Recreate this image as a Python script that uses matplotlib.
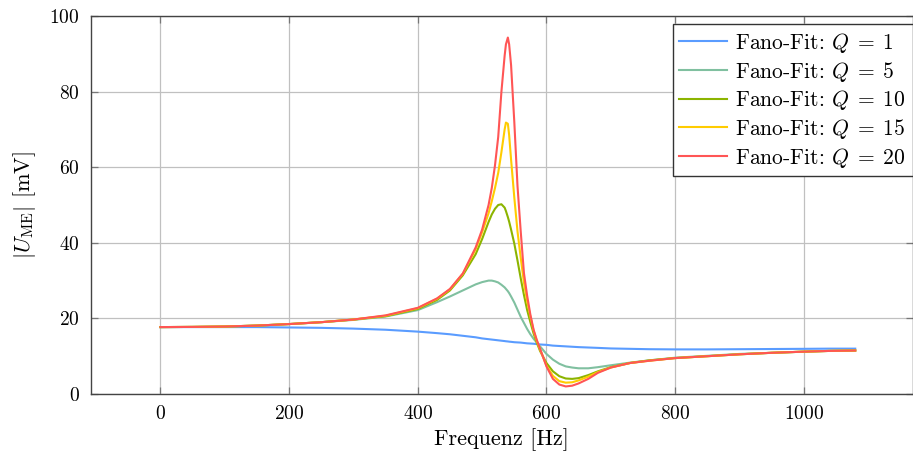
import matplotlib
matplotlib.use("Agg")
import matplotlib.pyplot as plt

plt.rcParams["font.family"] = "serif"
plt.rcParams["font.serif"] = ["cmr10", "DejaVu Serif"]
plt.rcParams["mathtext.fontset"] = "cm"
plt.rcParams["axes.formatter.use_mathtext"] = True

# Frequency samples [Hz]
freq = [0, 50, 100, 150, 200, 250, 300, 350, 400, 430, 450, 470, 490, 500,
        510, 515, 520, 525, 530, 535, 537, 540, 542, 545, 550, 555, 560, 565, 570, 575,
        580, 585, 590, 600, 610, 620, 630, 640, 650, 665, 680, 700, 730, 760,
        800, 850, 900, 950, 1000, 1040, 1080]

# |U_ME| [mV] for each Q
u_q1 = [17.7, 17.7, 17.7, 17.7, 17.6, 17.5, 17.3, 17.0, 16.5, 16.1, 15.8, 15.4, 15.0, 14.7,
        14.5, 14.4, 14.3, 14.2, 14.1, 14.0, 13.95, 13.9, 13.85, 13.8, 13.7, 13.65, 13.6, 13.5,
        13.4, 13.35, 13.3, 13.2, 13.1, 13.0, 12.8, 12.7, 12.6, 12.5, 12.4, 12.3, 12.2, 12.05,
        11.95, 11.85, 11.8, 11.8, 11.85, 11.9, 11.95, 12.0, 12.0]
u_q5 = [17.7, 17.75, 17.85, 18.1, 18.5, 19.0, 19.6, 20.5, 22.2, 24.3, 25.8, 27.4, 29.0, 29.6,
        30.0, 30.0, 29.8, 29.5, 28.9, 28.2, 27.8, 27.2, 26.7, 25.8, 24.2, 22.3, 20.4, 18.8,
        17.2, 15.8, 14.6, 13.6, 12.6, 10.6, 9.1, 8.0, 7.3, 7.0, 6.8, 6.8, 7.1, 7.6,
        8.3, 8.9, 9.6, 10.1, 10.6, 10.9, 11.2, 11.4, 11.5]
u_q10 = [17.7, 17.75, 17.85, 18.1, 18.5, 19.0, 19.7, 20.6, 22.5, 24.9, 27.4, 31.4, 37.0, 41.0,
         45.5, 47.5, 49.0, 50.0, 50.2, 49.3, 48.4, 46.8, 45.6, 43.5, 39.8, 35.3, 30.6, 26.2,
         22.2, 19.0, 16.0, 13.6, 11.4, 8.2, 6.0, 4.7, 4.1, 4.0, 4.2, 5.0, 6.0, 7.1,
         8.2, 8.9, 9.5, 10.0, 10.5, 10.9, 11.2, 11.4, 11.5]
u_q15 = [17.7, 17.75, 17.85, 18.1, 18.5, 19.0, 19.7, 20.7, 22.7, 25.2, 27.7, 31.8, 38.3, 42.8,
         47.8, 51.0, 54.5, 58.5, 64.0, 70.0, 71.8, 71.5, 68.5, 62.0, 52.0, 43.0, 36.0, 29.5,
         24.5, 20.5, 16.8, 14.0, 11.8, 7.5, 4.8, 3.4, 3.0, 3.1, 3.6, 4.6, 5.8, 7.0,
         8.2, 8.8, 9.5, 10.0, 10.5, 10.9, 11.2, 11.4, 11.5]
u_q20 = [17.7, 17.75, 17.85, 18.1, 18.5, 19.0, 19.7, 20.8, 22.8, 25.3, 27.8, 31.9, 38.8, 43.5,
         50.0, 54.5, 60.5, 68.0, 80.0, 89.5, 92.5, 94.3, 92.5, 87.0, 72.0, 55.0, 43.0, 32.0,
         26.0, 21.0, 17.0, 14.3, 12.0, 7.3, 4.0, 2.5, 2.0, 2.2, 2.8, 4.0, 5.6, 7.0,
         8.2, 8.8, 9.5, 10.0, 10.5, 10.9, 11.2, 11.4, 11.5]

labels = [r"Fano-Fit: $Q\;=\;1$", r"Fano-Fit: $Q\;=\;5$", r"Fano-Fit: $Q\;=\;10$",
          r"Fano-Fit: $Q\;=\;15$", r"Fano-Fit: $Q\;=\;20$"]
colors = ["#5a9cff", "#80c0a0", "#8cb400", "#ffcc00", "#ff5555"]

fig = plt.figure(figsize=(9.13, 4.55), dpi=100)
ax = fig.add_axes([91 / 913, 1 - 394 / 455, 821.5 / 913, 378 / 455])

for u, lab, col in zip([u_q1, u_q5, u_q10, u_q15, u_q20], labels, colors):
    ax.plot(freq, u, color=col, linewidth=1.5, label=lab)

ax.set_xlim(-108, 1169)
ax.set_ylim(0, 100)
ax.set_xticks([0, 200, 400, 600, 800, 1000])
ax.set_yticks([0, 20, 40, 60, 80, 100])
ax.grid(True, color="#c0c0c0", linewidth=0.9)
ax.set_axisbelow(True)
ax.tick_params(direction="in", length=5, width=0.9, color="#777777",
               labelsize=14, top=True, right=True, pad=8)
for sp in ax.spines.values():
    sp.set_color("#444444")
    sp.set_linewidth(1.0)

ax.set_xlabel("Frequenz [Hz]", fontsize=16, labelpad=4)
ax.set_ylabel(r"$|U_{\mathrm{ME}}|$ [mV]", fontsize=16, labelpad=8)

leg = ax.legend(loc="upper right", bbox_to_anchor=(1.0, 0.978), borderaxespad=0,
                fontsize=15.5, fancybox=False, framealpha=1, edgecolor="#333333",
                handlelength=2.2, labelspacing=0.22, borderpad=0.3, handletextpad=0.4)
leg.get_frame().set_linewidth(1.0)

fig.savefig("out.png", dpi=100)
